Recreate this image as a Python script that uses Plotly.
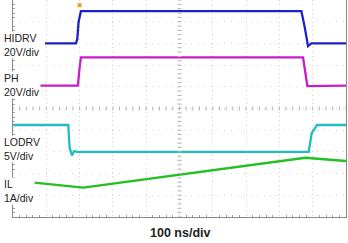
import plotly.graph_objects as go

# ---- data (time in ns, values in channel units) ----
hidrv_t = [96, 189, 193, 197, 204, 866, 876, 886, 896, 1000]
hidrv_v = [0, 0, 4, 20, 29.8, 29.8, 15, -2.5, 0, 0]          # V

ph_t = [71, 195, 199, 204, 871, 877, 884, 1000]
ph_v = [0, 0, 14, 26.2, 26.2, 12, -0.3, 0]                   # V

lodrv_t = [0, 166, 170, 177, 184, 192, 888, 897, 913, 1000]
lodrv_v = [6.2, 6.2, 1.0, -0.8, 0.2, 0, 0, 4.3, 6.2, 6.2]   # V

il_t = [64, 211, 878, 1000]
il_v = [1.58, 1.35, 2.73, 2.58]                              # A

labels = [("HIDRV", "20V/div"), ("PH", "20V/div"), ("LODRV", "5V/div"), ("IL", "1A/div")]
xlabel = "100 ns/div"

# channel settings: (scale per div, ground offset in div)
ch_scale = [20, 20, 5, 1]
ch_offset = [8.0, 6.05, 3.0, 0.0]
ch_color = ["#1c22c8", "#c81ec8", "#22bcbc", "#22c022"]

series = [(hidrv_t, hidrv_v), (ph_t, ph_v), (lodrv_t, lodrv_v), (il_t, il_v)]

fig = go.Figure()
for (t, v), sc, off, col in zip(series, ch_scale, ch_offset, ch_color):
    fig.add_trace(go.Scatter(x=t, y=[off + val / sc for val in v], mode="lines",
                             line=dict(color=col, width=2.3), showlegend=False,
                             hoverinfo="skip"))

# center-line tick marks
cx = [i * 20 for i in range(51)]
fig.add_trace(go.Scatter(x=cx, y=[5] * len(cx), mode="markers",
                         marker=dict(symbol="line-ns", size=3, line=dict(color="#b8b8b8", width=1)),
                         showlegend=False, hoverinfo="skip"))
cy = [i * 0.2 for i in range(51)]
fig.add_trace(go.Scatter(x=[500] * len(cy), y=cy, mode="markers",
                         marker=dict(symbol="line-ew", size=3, line=dict(color="#b8b8b8", width=1)),
                         showlegend=False, hoverinfo="skip"))

# trigger marker
fig.add_trace(go.Scatter(x=[200], y=[9.76], mode="markers",
                         marker=dict(symbol="square", size=4, color="#f0a020"),
                         showlegend=False, hoverinfo="skip"))

# left labels (pixel rows converted to paper fraction)
label_y = [45.3, 84.8, 149, 190.8]
for (a, b), py in zip(labels, label_y):
    fig.add_annotation(x=-10 / 333, y=(217 - py) / 217, xref="paper", yref="paper",
                       text=a + "<br>" + b, align="left",
                       showarrow=False, xanchor="left", yanchor="middle",
                       bgcolor="white", borderpad=0,
                       font=dict(family="Liberation Sans, Arial", size=10.5, color="#222222"))

fig.add_annotation(x=0.5, y=-16 / 217, xref="paper", yref="paper", text="<b>" + xlabel + "</b>",
                   showarrow=False, xanchor="center", yanchor="middle",
                   font=dict(family="Liberation Sans, Arial", size=12.5, color="#222222"))

fig.update_xaxes(range=[0, 1000], dtick=100, showgrid=True, gridcolor="#d2d2d2",
                 griddash="1px,3.3px", gridwidth=1, zeroline=False, showticklabels=False,
                 showline=True, linecolor="#8a8a8a", linewidth=1, mirror=True,
                 ticks="", minor=dict(ticks="inside", dtick=20, ticklen=2, tickcolor="#a0a0a0"))
fig.update_yaxes(range=[0, 10], dtick=1, showgrid=True, gridcolor="#d2d2d2",
                 griddash="1px,5.6px", gridwidth=1, zeroline=False, showticklabels=False,
                 showline=True, linecolor="#8a8a8a", linewidth=1, mirror=True,
                 ticks="", minor=dict(ticks="inside", dtick=0.2, ticklen=2, tickcolor="#a0a0a0"))

fig.update_layout(width=348, height=243, margin=dict(l=13, r=2, t=0, b=26),
                  plot_bgcolor="white", paper_bgcolor="white")

fig.write_html("out.html")
